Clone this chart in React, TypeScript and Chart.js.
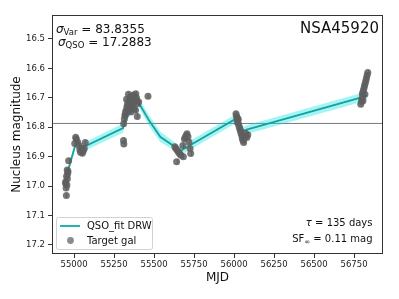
import React, { useEffect, useRef } from 'react';
import { Chart, registerables } from 'chart.js';
Chart.register(...registerables);

const W = 399;
const H = 299;

const xTicks = [55000, 55250, 55500, 55750, 56000, 56250, 56500, 56750];
const yTicks = [16.5, 16.6, 16.7, 16.8, 16.9, 17.0, 17.1, 17.2];

const galMjd = [
  54952, 54950, 54955, 54948, 54958, 54953, 54960, 54946, 54962, 54957, 54966,
  55004, 55010, 55014, 55022, 55030, 55036, 55040, 55046, 55052, 55058, 55064, 55070,
  55310, 55309, 55311, 55314, 55318, 55322, 55326, 55320, 55330, 55334, 55338, 55342,
  55346, 55350, 55354, 55358, 55362, 55366, 55370, 55374, 55378, 55382, 55386, 55390,
  55394, 55398, 55395, 55404, 55462, 55328, 55340, 55356, 55366, 55376, 55384,
  55630, 55636, 55641, 55645, 55652, 55660, 55668, 55683, 55680, 55690, 55695, 55700,
  55706, 55712, 55718, 55725, 55729,
  56012, 56015, 56018, 56024, 56020, 56028, 56032, 56026, 56036, 56040, 56044, 56048,
  56052, 56056, 56060, 56064, 56072, 56080, 56086,
  56792, 56796, 56800, 56804, 56802, 56808, 56812, 56816, 56820, 56824, 56828, 56832,
  56836, 56818, 56806,
];
const galMag = [
  17.032, 17.006, 16.996, 16.985, 16.975, 16.966, 16.958, 16.99, 16.95, 16.945, 16.914,
  16.855, 16.834, 16.84, 16.85, 16.862, 16.876, 16.885, 16.872, 16.888, 16.88, 16.872, 16.852,
  16.788, 16.845, 16.857, 16.772, 16.76, 16.748, 16.742, 16.757, 16.73, 16.72, 16.745, 16.71,
  16.725, 16.698, 16.712, 16.72, 16.735, 16.7, 16.69, 16.715, 16.695, 16.705, 16.686, 16.7,
  16.71, 16.72, 16.763, 16.714, 16.695, 16.705, 16.688, 16.748, 16.728, 16.738, 16.742,
  16.866, 16.872, 16.917, 16.878, 16.884, 16.89, 16.895, 16.9, 16.862, 16.84, 16.835, 16.828,
  16.822, 16.832, 16.85, 16.872, 16.889,
  16.754, 16.762, 16.768, 16.776, 16.783, 16.79, 16.798, 16.772, 16.806, 16.812, 16.82, 16.828,
  16.838, 16.845, 16.852, 16.83, 16.82, 16.835, 16.825,
  16.722, 16.712, 16.702, 16.693, 16.685, 16.676, 16.667, 16.658, 16.65, 16.641, 16.632, 16.622,
  16.614, 16.688, 16.71,
];
const galErr = [
  0.009, 0.009, 0.008, 0.009, 0.008, 0.009, 0.008, 0.009, 0.008, 0.009, 0.009,
  0.009, 0.008, 0.009, 0.009, 0.008, 0.009, 0.009, 0.008, 0.009, 0.009, 0.008, 0.009,
  0.009, 0.009, 0.009, 0.008, 0.009, 0.008, 0.009, 0.008, 0.009, 0.008, 0.009, 0.008,
  0.009, 0.008, 0.009, 0.008, 0.009, 0.008, 0.009, 0.008, 0.009, 0.008, 0.009, 0.008,
  0.009, 0.008, 0.009, 0.008, 0.009, 0.008, 0.009, 0.008, 0.009, 0.008, 0.009,
  0.009, 0.008, 0.009, 0.008, 0.009, 0.008, 0.009, 0.008, 0.009, 0.008, 0.009, 0.008,
  0.009, 0.008, 0.009, 0.008, 0.009,
  0.009, 0.008, 0.009, 0.008, 0.009, 0.008, 0.009, 0.008, 0.009, 0.008, 0.009, 0.008,
  0.009, 0.008, 0.009, 0.008, 0.009, 0.008, 0.009,
  0.009, 0.008, 0.009, 0.008, 0.009, 0.008, 0.009, 0.008, 0.009, 0.008, 0.009, 0.008,
  0.009, 0.008, 0.009,
];

const fitMjd = [54958, 55012, 55056, 55306, 55316, 55389, 55472, 55540, 55630, 55660, 55722, 56008, 56016, 56058, 56079, 56808, 56830];
const fitMag = [16.955, 16.852, 16.868, 16.803, 16.782, 16.703, 16.780, 16.833, 16.866, 16.882, 16.862, 16.772, 16.762, 16.812, 16.808, 16.697, 16.690];
const fitSig = [0.013, 0.013, 0.014, 0.016, 0.014, 0.014, 0.018, 0.018, 0.014, 0.014, 0.015, 0.015, 0.014, 0.014, 0.015, 0.015, 0.014];

const refMag = 16.787;

const FONT = '"DejaVu Sans", sans-serif';
const PT_COLOR = 'rgba(95,95,95,0.85)';
const LINE_COLOR = '#17a09c';
const BAND_COLOR = 'rgba(0,228,228,0.36)';

function drawMath(ctx: CanvasRenderingContext2D, parts: { t: string; size: number; italic?: boolean; dy?: number }[], x: number, y: number, align: 'left' | 'right') {
  let total = 0;
  for (const p of parts) {
    ctx.font = `${p.italic ? 'italic ' : ''}${p.size}px ${FONT}`;
    total += ctx.measureText(p.t).width;
  }
  let cx = align === 'left' ? x : x - total;
  ctx.textAlign = 'left';
  ctx.textBaseline = 'alphabetic';
  for (const p of parts) {
    ctx.font = `${p.italic ? 'italic ' : ''}${p.size}px ${FONT}`;
    ctx.fillText(p.t, cx, y + (p.dy || 0));
    cx += ctx.measureText(p.t).width;
  }
}

const overlay = {
  id: 'overlay',
  afterDatasetsDraw(chart: any) {
    const ctx = chart.ctx as CanvasRenderingContext2D;
    const xs = chart.scales.x;
    const ys = chart.scales.y;
    ctx.save();
    ctx.strokeStyle = PT_COLOR;
    ctx.lineWidth = 1.2;
    for (let i = 0; i < galMjd.length; i++) {
      const px = Math.round(xs.getPixelForValue(galMjd[i])) + 0.5;
      const y1 = ys.getPixelForValue(galMag[i] - galErr[i]);
      const y2 = ys.getPixelForValue(galMag[i] + galErr[i]);
      ctx.beginPath();
      ctx.moveTo(px, y1);
      ctx.lineTo(px, y2);
      ctx.stroke();
    }
    ctx.restore();
  },
  afterDraw(chart: any) {
    const ctx = chart.ctx as CanvasRenderingContext2D;
    const a = chart.chartArea;
    ctx.save();
    ctx.strokeStyle = '#333';
    ctx.lineWidth = 1;
    ctx.strokeRect(Math.round(a.left) + 0.5, Math.round(a.top) + 0.5, Math.round(a.right - a.left) - 1, Math.round(a.bottom - a.top) - 1);

    ctx.fillStyle = '#111';
    drawMath(ctx, [
      { t: 'σ', size: 12, italic: true },
      { t: 'Var', size: 8.5, dy: 2.5 },
      { t: ' = 83.8355', size: 12 },
    ], 56, 32.5, 'left');
    drawMath(ctx, [
      { t: 'σ', size: 12, italic: true },
      { t: 'QSO', size: 8.5, dy: 2.5 },
      { t: ' = 17.2883', size: 12 },
    ], 58, 45.5, 'left');
    ctx.font = `15px ${FONT}`;
    ctx.textAlign = 'right';
    ctx.textBaseline = 'alphabetic';
    ctx.fillText('NSA45920', 379, 33.3);
    drawMath(ctx, [
      { t: 'τ', size: 10, italic: true },
      { t: ' = 135 days', size: 10 },
    ], 372.5, 226, 'right');
    drawMath(ctx, [
      { t: 'SF', size: 10 },
      { t: '∞', size: 7, dy: 2 },
      { t: ' = 0.11 mag', size: 10 },
    ], 372.5, 241.5, 'right');

    const lx = 56.5, ly = 217.5, lw = 96, lh = 32, r = 2;
    ctx.beginPath();
    ctx.moveTo(lx + r, ly);
    ctx.lineTo(lx + lw - r, ly);
    ctx.quadraticCurveTo(lx + lw, ly, lx + lw, ly + r);
    ctx.lineTo(lx + lw, ly + lh - r);
    ctx.quadraticCurveTo(lx + lw, ly + lh, lx + lw - r, ly + lh);
    ctx.lineTo(lx + r, ly + lh);
    ctx.quadraticCurveTo(lx, ly + lh, lx, ly + lh - r);
    ctx.lineTo(lx, ly + r);
    ctx.quadraticCurveTo(lx, ly, lx + r, ly);
    ctx.closePath();
    ctx.fillStyle = 'rgba(255,255,255,0.8)';
    ctx.fill();
    ctx.strokeStyle = '#d2d2d2';
    ctx.lineWidth = 1;
    ctx.stroke();

    ctx.strokeStyle = '#22b4ae';
    ctx.lineWidth = 2;
    ctx.beginPath();
    ctx.moveTo(60, 226);
    ctx.lineTo(80, 226);
    ctx.stroke();
    ctx.fillStyle = 'rgba(110,110,110,0.8)';
    ctx.beginPath();
    ctx.arc(70.5, 240.5, 3.4, 0, Math.PI * 2);
    ctx.fill();

    ctx.fillStyle = '#111';
    ctx.font = `10px ${FONT}`;
    ctx.textAlign = 'left';
    ctx.textBaseline = 'middle';
    ctx.fillText('QSO_fit DRW', 87, 226);
    ctx.fillText('Target gal', 87, 241);
    ctx.restore();
  },
};

export default function App() {
  const ref = useRef<HTMLCanvasElement | null>(null);
  useEffect(() => {
    document.body.style.margin = '0';
    const canvas = ref.current;
    if (!canvas) return;
    const galData = galMjd.map((x, i) => ({ x, y: galMag[i] }));
    const fitData = fitMjd.map((x, i) => ({ x, y: fitMag[i] }));
    const upper = fitMjd.map((x, i) => ({ x, y: fitMag[i] - fitSig[i] }));
    const lower = fitMjd.map((x, i) => ({ x, y: fitMag[i] + fitSig[i] }));
    const xMin = 54862;
    const xMax = 56931;
    const chart = new Chart(canvas, {
      type: 'scatter',
      data: {
        datasets: [
          {
            type: 'scatter',
            label: 'Target gal',
            data: galData,
            pointRadius: 3.5,
            pointBackgroundColor: PT_COLOR,
            pointBorderWidth: 0,
            pointBorderColor: 'rgba(0,0,0,0)',
          } as any,
          {
            type: 'line',
            label: 'QSO_fit DRW',
            data: fitData,
            borderColor: LINE_COLOR,
            borderWidth: 1.8,
            pointRadius: 0,
            tension: 0,
            fill: false,
          },
          {
            type: 'line',
            label: 'upper',
            data: upper,
            borderColor: 'rgba(0,0,0,0)',
            borderWidth: 0,
            pointRadius: 0,
            tension: 0,
            fill: '+1',
            backgroundColor: BAND_COLOR,
          },
          {
            type: 'line',
            label: 'lower',
            data: lower,
            borderColor: 'rgba(0,0,0,0)',
            borderWidth: 0,
            pointRadius: 0,
            tension: 0,
            fill: false,
          },
          {
            type: 'line',
            label: 'ref',
            data: [{ x: xMin, y: refMag }, { x: xMax, y: refMag }],
            borderColor: '#7a7a7a',
            borderWidth: 1,
            pointRadius: 0,
            fill: false,
          },
        ],
      },
      options: {
        animation: false,
        responsive: false,
        maintainAspectRatio: false,
        devicePixelRatio: 1,
        layout: { padding: { top: 15, right: 16, left: 0, bottom: 0 } },
        plugins: { legend: { display: false }, tooltip: { enabled: false } },
        scales: {
          x: {
            type: 'linear',
            min: xMin,
            max: xMax,
            afterBuildTicks: (s: any) => { s.ticks = xTicks.map((v) => ({ value: v })); },
            afterFit: (s: any) => { s.height = 45; },
            grid: { drawOnChartArea: false, drawTicks: true, tickLength: 4, tickColor: '#333' },
            border: { display: false },
            ticks: {
              font: { family: 'DejaVu Sans', size: 8.5 },
              color: '#222',
              padding: 2,
              maxRotation: 0,
              autoSkip: false,
              callback: (v: any) => String(v),
            },
            title: {
              display: true,
              text: 'MJD',
              font: { family: 'DejaVu Sans', size: 12 },
              color: '#111',
              padding: { top: 0, bottom: 14 },
            },
          },
          y: {
            type: 'linear',
            reverse: true,
            min: 16.4185,
            max: 17.2306,
            afterBuildTicks: (s: any) => { s.ticks = yTicks.map((v) => ({ value: v })); },
            afterFit: (s: any) => { s.width = 52; },
            grid: { drawOnChartArea: false, drawTicks: true, tickLength: 4, tickColor: '#333' },
            border: { display: false },
            ticks: {
              font: { family: 'DejaVu Sans', size: 8.5 },
              color: '#222',
              padding: 3,
              autoSkip: false,
              callback: (v: any) => Number(v).toFixed(1),
            },
            title: {
              display: true,
              text: 'Nucleus magnitude',
              font: { family: 'DejaVu Sans', size: 12 },
              color: '#111',
              padding: { top: 10, bottom: 0 },
            },
          },
        },
      },
      plugins: [overlay],
    });
    return () => chart.destroy();
  }, []);
  return (
    <div style={{ position: 'fixed', left: 0, top: 0, width: W, height: H, background: '#fff' }}>
      <canvas ref={ref} width={W} height={H} style={{ display: 'block', width: W, height: H }} />
    </div>
  );
}
